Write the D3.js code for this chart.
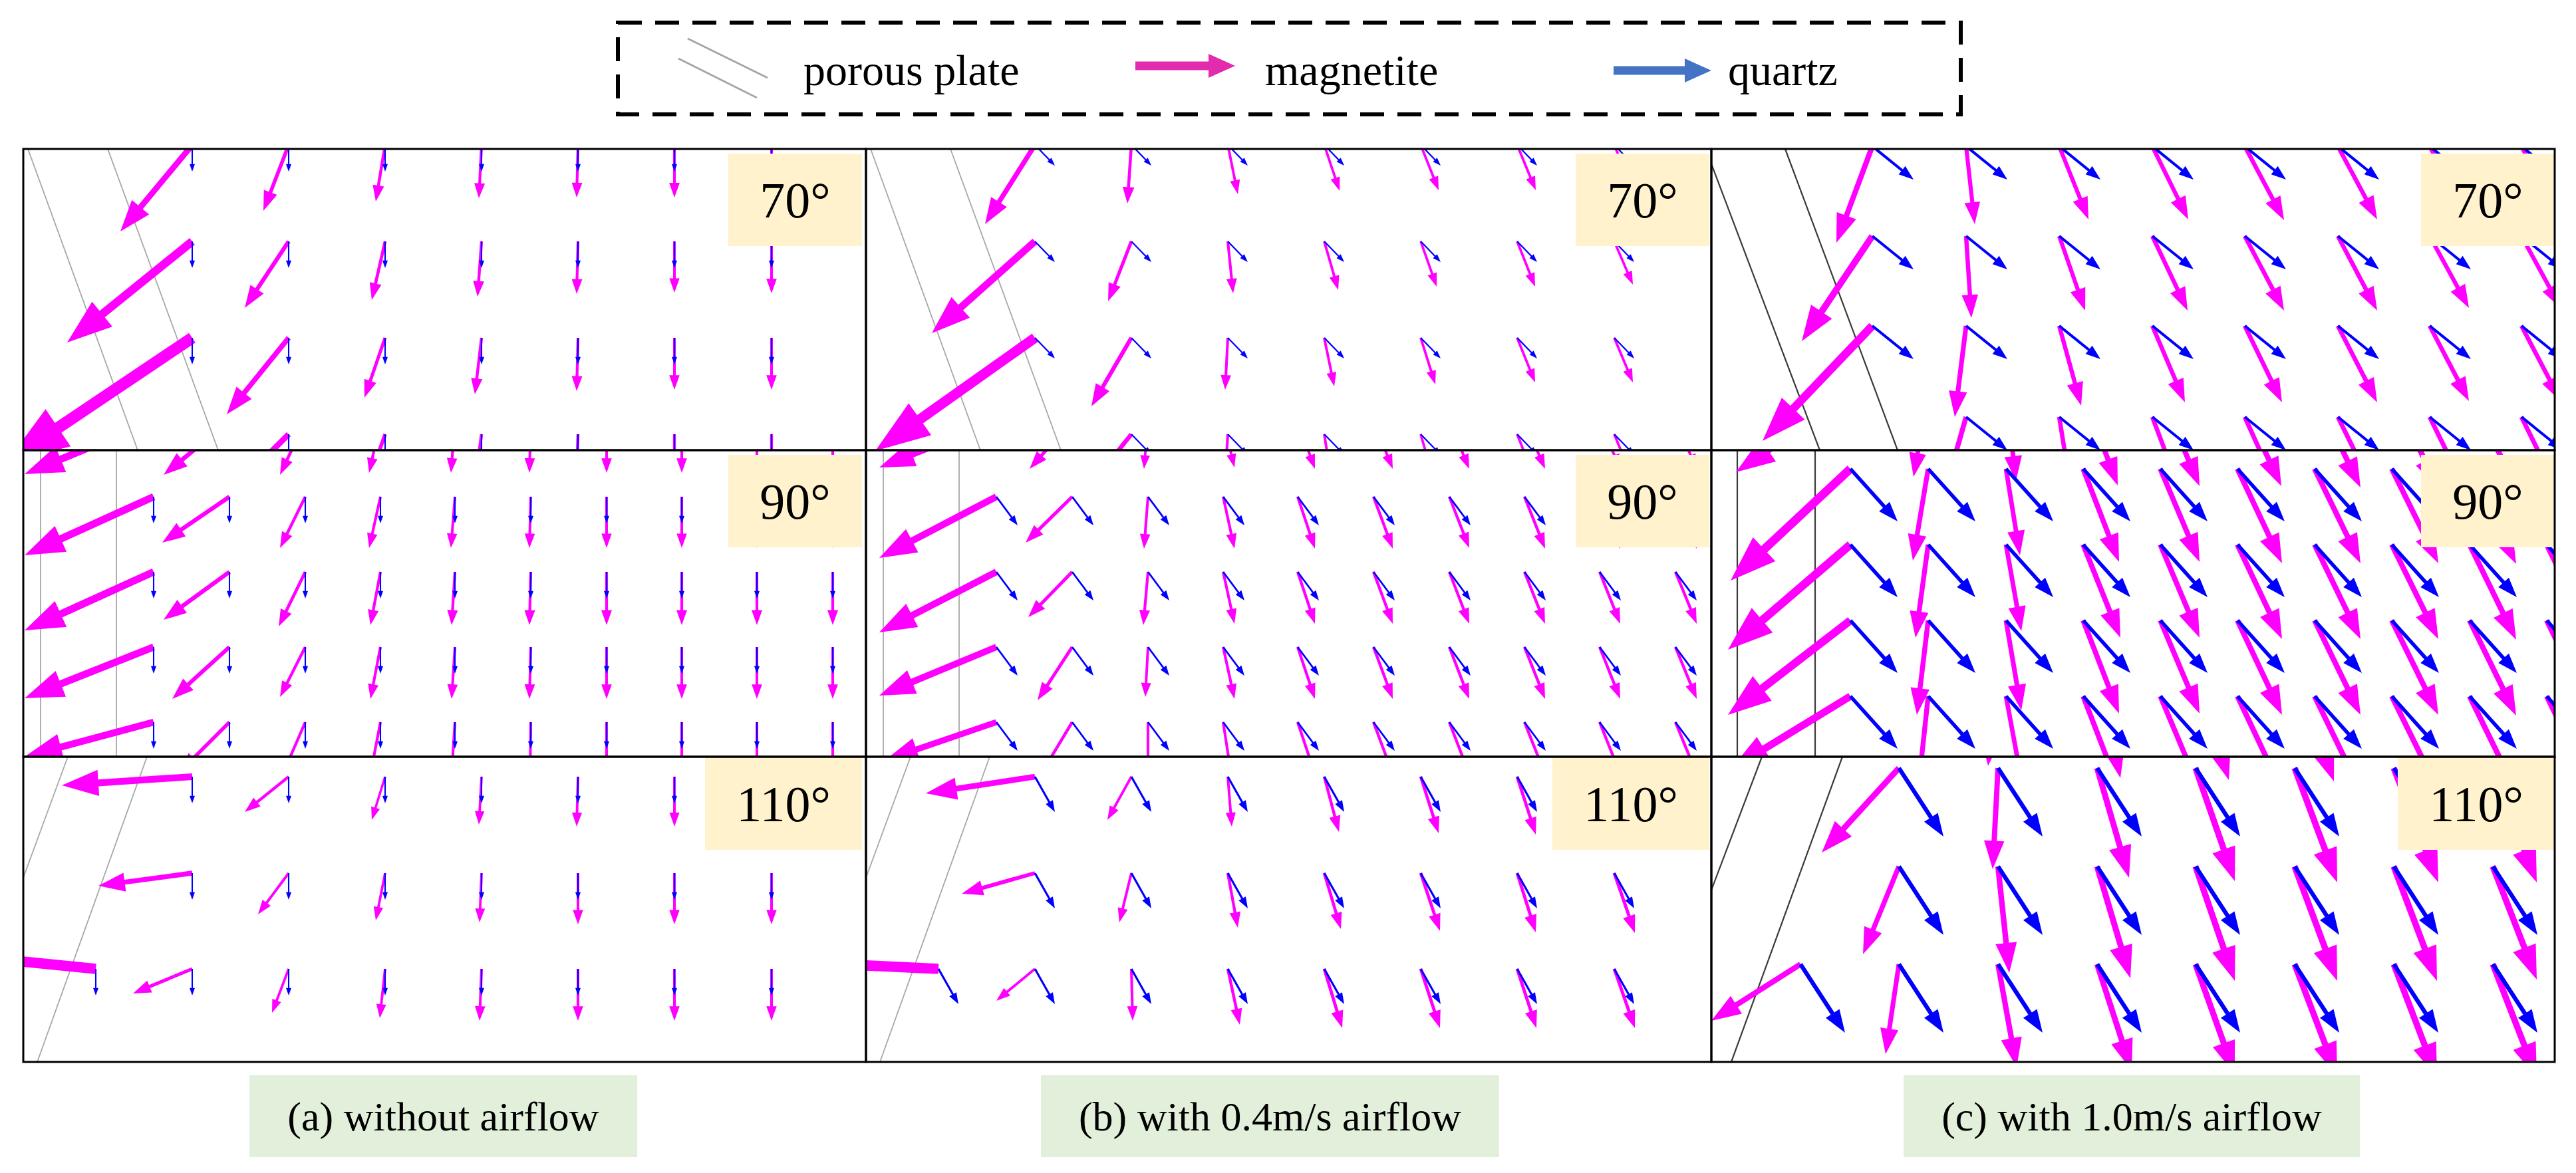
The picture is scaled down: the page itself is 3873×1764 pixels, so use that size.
<!DOCTYPE html>
<html><head><meta charset="utf-8">
<script src="https://cdn.jsdelivr.net/npm/d3@7"></script>
<style>body{margin:0;background:#fff}svg{display:block}</style>
</head><body>
<svg id="chart" width="3873" height="1764"></svg>
<script>
// ---------------- DATA (units: 1 unit = 1/10 of panel pixel scale, origin = panel top-left) -------------
const captions = ["(a) without airflow", "(b) with 0.4m/s airflow", "(c) with 1.0m/s airflow"];
const angleLabels = ["70°", "90°", "110°"];
const legendLabels = ["porous plate", "magnetite", "quartz"];

// sampling grids
const gridX_ab70 = [25.4, 39.9, 54.4, 68.9, 83.4, 97.9, 112.5];
const gridY_ab70 = [-0.6, 13.9, 28.4, 42.9];
const gridX_c70 = [24.2, 38.3, 52.3, 66.3, 80.2, 94.2, 108.0, 121.8];
const gridY_c70 = [-0.4, 13.1, 26.6, 40.3];
const gridX_ab90 = [19.6, 31.0, 42.4, 53.7, 64.9, 76.3, 87.7, 99.0, 110.3, 121.7];
const gridY_ab90 = [-4.4, 7.0, 18.3, 29.6, 40.9];
const gridX_c90 = [20.9, 32.6, 44.3, 55.9, 67.5, 79.1, 90.7, 102.3, 114.0, 125.6];
const gridY_c90 = [-8.6, 2.8, 14.2, 25.6, 37.0];
const gridX_ab110 = [10.9, 25.4, 39.9, 54.4, 68.9, 83.4, 97.9, 112.5];
const gridY_ab110 = [3.0, 17.5, 31.9];
const gridX_c110 = [13.4, 28.2, 43.1, 58.0, 72.8, 87.7, 102.6, 117.5];
const gridY_c110 = [-13.1, 1.7, 16.5, 31.2];

// magnetite velocity vectors [dx, dy] per row / column (null = no particle)
const mag_a70 = [
  [[-10.8,13.0],[-3.8,9.9],[-1.4,8.5],[-0.4,8.0],[-0.2,7.9],[0,7.9],[0,7.9]],
  [[-18.8,15.2],[-6.6,10.0],[-2.0,8.8],[-0.6,8.3],[-0.2,7.9],[0,7.7],[0,7.8]],
  [[-28.0,18.8],[-9.3,11.5],[-3.1,9.0],[-1.0,8.5],[-0.2,8.0],[0,7.8],[0,7.8]],
  [null,[-12.0,12.0],[-3.5,10.0],[-1.2,9.0],[-0.3,8.5],[0,8.3],[0,8.3]]
];
const mag_b70 = [
  [[-7.5,11.9],[-0.6,8.8],[1.5,7.4],[2.3,6.9],[2.7,6.8],[2.8,6.8],[2.8,6.8]],
  [[-15.5,13.8],[-3.5,9.0],[0.8,7.8],[2.1,7.3],[2.4,6.8],[2.7,6.8],[2.8,6.5]],
  [[-24.0,17.0],[-6.0,10.3],[-0.4,7.8],[1.5,7.3],[2.2,7.0],[2.7,6.7],[2.8,6.7]],
  [null,[-8.0,10.0],[-0.5,8.0],[1.2,7.5],[2.0,7.0],[2.7,6.8],[2.8,6.8]]
];
const mag_c70 = [
  [[-5.4,14.5],[1.3,11.7],[4.4,11.0],[5.4,11.0],[5.9,11.1],[5.9,11.0],[5.9,11.0],[5.9,11.0]],
  [[-10.6,15.8],[0.8,12.3],[3.9,11.2],[5.3,11.2],[5.9,11.2],[5.9,11.2],[5.9,10.8],[5.9,10.8]],
  [[-16.5,17.3],[-1.7,13.7],[3.3,12.0],[4.9,11.5],[5.6,11.5],[5.9,11.5],[5.9,11.3],[5.9,11.3]],
  [null,[-4.0,14.0],[2.0,12.5],[4.5,12.0],[5.4,12.0],[5.9,12.0],[5.9,12.0],[5.9,12.0]]
];
const mag_a90 = [
  [[-19.4,8.0],[-9.9,8.1],[-3.8,8.1],[-1.7,7.8],[-0.6,7.8],[-0.2,7.8],[0,7.8],[0,7.8],[0,7.8],[0,7.8]],
  [[-19.4,8.8],[-10.1,6.9],[-3.8,7.7],[-1.7,7.7],[-0.6,7.7],[-0.2,7.7],[0,7.7],[0,7.7],[0,7.7],[0,7.7]],
  [[-19.4,8.8],[-9.9,7.2],[-4.0,8.2],[-1.5,8.0],[-0.5,8.0],[-0.2,8.0],[0,8.0],[0,8.0],[0,8.0],[0,8.0]],
  [[-19.4,7.7],[-8.6,7.8],[-3.8,7.5],[-1.5,7.8],[-0.5,7.8],[-0.2,7.8],[0,7.8],[0,7.8],[0,7.8],[0,7.8]],
  [[-19.4,5.2],[-7.5,7.5],[-3.3,7.6],[-1.5,7.8],[-0.5,7.8],[-0.1,7.8],[0,7.8],[0,7.8],[0,7.8],[0,7.8]]
];
const mag_b90 = [
  [[-17.6,7.0],[-6.4,7.2],[-0.6,7.2],[1.7,7.0],[2.6,7.2],[2.9,7.2],[3.0,7.2],[3.1,7.2],[3.1,7.2],[3.2,7.2]],
  [[-17.6,9.2],[-7.0,6.9],[-0.6,7.8],[1.7,7.8],[2.6,7.8],[2.9,7.8],[3.0,7.7],[3.1,7.8],[3.1,7.8],[3.2,7.8]],
  [[-17.6,9.1],[-6.6,6.8],[-0.7,8.0],[1.7,7.8],[2.6,7.8],[2.9,7.8],[3.0,7.8],[3.1,7.8],[3.1,7.8],[3.2,7.8]],
  [[-17.6,7.3],[-5.2,8.0],[-0.4,7.5],[1.7,7.8],[2.6,7.8],[2.9,7.8],[3.0,7.8],[3.1,7.8],[3.1,7.8],[3.2,7.8]],
  [[-16.7,5.7],[-4.5,7.5],[0.0,7.8],[1.2,7.8],[2.6,7.8],[2.9,7.8],[3.0,7.8],[3.1,7.8],[3.1,7.8],[3.2,7.8]]
];
const mag_c90 = [
  [[-17.2,11.9],[-2.2,12.6],[1.5,13.2],[5.2,13.9],[5.9,14.0],[6.6,14.0],[6.9,14.2],[7.0,14.2],[7.0,14.2],[7.0,14.2]],
  [[-18.0,16.8],[-2.3,13.8],[2.1,13.0],[5.4,14.0],[5.9,14.0],[6.7,14.2],[6.9,14.2],[7.0,14.2],[7.0,14.3],[7.0,14.3]],
  [[-18.4,15.8],[-1.9,14.0],[2.3,13.0],[5.6,14.0],[5.9,14.0],[6.7,14.2],[6.9,14.2],[7.0,14.2],[7.0,14.3],[7.0,14.3]],
  [[-18.4,14.2],[-1.7,14.2],[2.3,13.5],[5.4,14.0],[5.9,14.0],[6.7,14.2],[6.9,14.2],[7.0,14.2],[7.0,14.3],[7.0,14.3]],
  [[-18.0,11.0],[-1.5,14.0],[2.4,13.0],[5.4,14.0],[5.9,14.0],[6.7,14.2],[6.9,14.2],[7.0,14.2],[7.0,14.3],[7.0,14.3]]
];
const mag_a110 = [
  [null,[-19.6,1.3],[-6.6,5.3],[-2.0,6.5],[-0.4,7.2],[-0.2,7.5],[0,7.5],[0,7.5]],
  [null,[-14.1,1.9],[-4.6,6.2],[-1.4,7.1],[-0.3,7.4],[0,7.7],[0,7.7],[0,7.7]],
  [[-30.0,-3.0],[-8.9,3.7],[-2.5,6.6],[-0.8,7.4],[-0.3,7.8],[0,7.8],[0,7.8],[0,7.8]]
];
const mag_b110 = [
  [null,[-16.4,2.5],[-3.6,6.5],[0.6,7.5],[2.2,8.3],[2.7,8.5],[2.8,8.7],[2.9,8.8]],
  [null,[-11.0,3.1],[-1.8,7.4],[1.5,8.2],[2.5,8.4],[2.9,8.7],[2.8,8.9],[3.1,9.0]],
  [[-30.0,-1.4],[-5.8,4.8],[0.2,7.8],[1.8,8.4],[2.7,8.9],[2.9,8.9],[2.9,8.9],[3.1,8.9]]
];
const mag_c110 = [
  [null,[-13.0,12.0],[-1.5,14.5],[3.5,16.3],[5.0,16.6],[5.9,16.8],[6.5,17.0],[6.6,17.0]],
  [null,[-11.6,12.7],[-0.8,15.2],[4.8,16.5],[5.9,17.0],[6.4,17.2],[6.7,17.2],[6.6,17.2]],
  [null,[-5.4,13.2],[1.7,16.0],[5.0,16.8],[5.9,17.2],[6.4,17.2],[6.5,17.2],[6.6,17.0]],
  [[-13.4,8.5],[-2.0,13.5],[2.8,15.5],[5.2,16.0],[5.9,16.5],[6.4,16.8],[6.5,17.0],[6.6,17.0]]
];

// quartz velocity (uniform across each panel) [dx, dy]
const qtz_a70 = [0, 4.0], qtz_b70 = [3.0, 3.1], qtz_c70 = [6.2, 5.0];
const qtz_a90 = [0, 4.0], qtz_b90 = [3.2, 4.3], qtz_c90 = [7.1, 7.9];
const qtz_a110 = [0, 4.0], qtz_b110 = [3.0, 5.3], qtz_c110 = [6.7, 10.3];

// porous plate lines: [x at panel top, x at panel bottom]
const plates_ab70 = [[0.7, 17.2], [12.7, 29.3]];
const plates_c70 = [[-0.85, 16.3], [11.1, 28.0]];
const plates_ab90 = [[2.6, 2.6], [14.0, 14.0]];
const plates_c90 = [[3.9, 3.9], [15.6, 15.6]];
const plates_ab110 = [[6.7, -10.2], [18.6, 2.1]];
const plates_c110 = [[7.6, -9.8], [19.7, 3.0]];

// ---------------- LAYOUT ----------------
const colEdges = [35, 1302, 2573, 3841];
const rowEdges = [224, 677, 1138, 1597];
const MAG = "#FF00FF", QTZ = "#0000FF";

const panels = [
  {r:0,c:0,gx:gridX_ab70,gy:gridY_ab70,mag:mag_a70,q:qtz_a70,pl:plates_ab70},
  {r:0,c:1,gx:gridX_ab70,gy:gridY_ab70,mag:mag_b70,q:qtz_b70,pl:plates_ab70},
  {r:0,c:2,gx:gridX_c70,gy:gridY_c70,mag:mag_c70,q:qtz_c70,pl:plates_c70},
  {r:1,c:0,gx:gridX_ab90,gy:gridY_ab90,mag:mag_a90,q:qtz_a90,pl:plates_ab90},
  {r:1,c:1,gx:gridX_ab90,gy:gridY_ab90,mag:mag_b90,q:qtz_b90,pl:plates_ab90},
  {r:1,c:2,gx:gridX_c90,gy:gridY_c90,mag:mag_c90,q:qtz_c90,pl:plates_c90},
  {r:2,c:0,gx:gridX_ab110,gy:gridY_ab110,mag:mag_a110,q:qtz_a110,pl:plates_ab110},
  {r:2,c:1,gx:gridX_ab110,gy:gridY_ab110,mag:mag_b110,q:qtz_b110,pl:plates_ab110},
  {r:2,c:2,gx:gridX_c110,gy:gridY_c110,mag:mag_c110,q:qtz_c110,pl:plates_c110}
];

const svg = d3.select("#chart");
const FONT = "'Liberation Serif','Times New Roman',serif";
const line = d3.line();

function arrowPath(x0, y0, x1, y1) {
  const dx = x1 - x0, dy = y1 - y0, L = Math.hypot(dx, dy);
  if (L < 1) return "";
  const ux = dx / L, uy = dy / L, nx = -uy, ny = ux;
  const w = Math.max(1.7, 0.052 * L) / 2, h = 0.28 * L, hw = Math.max(3.5, 0.1 * L);
  const bx = x1 - ux * h, by = y1 - uy * h;
  return line([[x0 + nx * w, y0 + ny * w], [bx + nx * w, by + ny * w], [bx + nx * hw, by + ny * hw], [x1, y1],
               [bx - nx * hw, by - ny * hw], [bx - nx * w, by - ny * w], [x0 - nx * w, y0 - ny * w]]) + "Z";
}

const defs = svg.append("defs");

panels.forEach((p, i) => {
  const left = colEdges[p.c], right = colEdges[p.c + 1];
  const top = rowEdges[p.r], bottom = rowEdges[p.r + 1];
  const x = d3.scaleLinear().domain([0, (right - left) / 10]).range([left, right]);
  const y = d3.scaleLinear().domain([0, (bottom - top) / 10]).range([top, bottom]);
  const H = (bottom - top) / 10;

  defs.append("clipPath").attr("id", "clip" + i)
    .append("rect").attr("x", left).attr("y", top).attr("width", right - left).attr("height", bottom - top);
  const g = svg.append("g").attr("clip-path", `url(#clip${i})`);

  // porous plate
  g.selectAll("line.plate").data(p.pl).join("line").attr("class", "plate")
    .attr("x1", d => x(d[0])).attr("y1", y(0)).attr("x2", d => x(d[1])).attr("y2", y(H))
    .attr("stroke", p.c === 2 ? "#3a3a3a" : "#a8a8a8").attr("stroke-width", p.c === 2 ? 2.2 : 1.8);

  const pts = [];
  p.mag.forEach((row, ri) => row.forEach((v, ci) => {
    if (v) pts.push({gx: p.gx[ci], gy: p.gy[ri], m: v});
  }));

  g.selectAll("path.mag").data(pts).join("path").attr("class", "mag")
    .attr("d", d => arrowPath(x(d.gx), y(d.gy), x(d.gx + d.m[0]), y(d.gy + d.m[1])))
    .attr("fill", MAG);
  g.selectAll("path.qtz").data(pts).join("path").attr("class", "qtz")
    .attr("d", d => arrowPath(x(d.gx), y(d.gy), x(d.gx + p.q[0]), y(d.gy + p.q[1])))
    .attr("fill", QTZ);

  // angle label
  const lab = angleLabels[p.r];
  const bw = lab.length > 3 ? 236 : 201, bh = 139;
  const inset = [6, 3, 0][p.c];
  const bTop = top + (p.r === 2 ? 1 : 7);
  g.append("rect").attr("x", right - inset - bw).attr("y", bTop).attr("width", bw).attr("height", bh)
    .attr("fill", "#FFF2CC");
  g.append("text").attr("x", right - inset - bw / 2).attr("y", bTop + bh / 2 + 26)
    .attr("text-anchor", "middle").attr("font-family", FONT).attr("font-size", 76).attr("fill", "#000")
    .text(lab);
});

// panel borders
panels.forEach(p => {
  svg.append("rect").attr("x", colEdges[p.c]).attr("y", rowEdges[p.r])
    .attr("width", colEdges[p.c + 1] - colEdges[p.c]).attr("height", rowEdges[p.r + 1] - rowEdges[p.r])
    .attr("fill", "none").attr("stroke", "#000").attr("stroke-width", 3);
});

// captions
const capBoxes = [[375, 958], [1565, 2254], [2862, 3548]];
captions.forEach((t, i) => {
  const [a, b] = capBoxes[i];
  svg.append("rect").attr("x", a).attr("y", 1617).attr("width", b - a).attr("height", 123).attr("fill", "#E2EFDA");
  svg.append("text").attr("x", (a + b) / 2).attr("y", 1700).attr("text-anchor", "middle")
    .attr("font-family", FONT).attr("font-size", 62).attr("fill", "#000").text(t);
});

// legend
const lg = svg.append("g");
lg.append("rect").attr("x", 929).attr("y", 34).attr("width", 2019).attr("height", 138)
  .attr("fill", "none").attr("stroke", "#000").attr("stroke-width", 6).attr("stroke-dasharray", "36 20");
lg.selectAll("line.pp").data([[1034, 58, 1154, 117], [1020, 88, 1138, 147]]).join("line")
  .attr("x1", d => d[0]).attr("y1", d => d[1]).attr("x2", d => d[2]).attr("y2", d => d[3])
  .attr("stroke", "#a6a6a6").attr("stroke-width", 3);
function legendArrow(x0, x1, yc, shaft, head, hl, color) {
  lg.append("path").attr("fill", color).attr("d", line([
    [x0, yc - shaft / 2], [x1 - hl, yc - shaft / 2], [x1 - hl, yc - head / 2], [x1, yc],
    [x1 - hl, yc + head / 2], [x1 - hl, yc + shaft / 2], [x0, yc + shaft / 2]]) + "Z");
}
legendArrow(1707, 1857, 99, 13, 36, 40, "#E32BAE");
legendArrow(2426, 2573, 106, 13, 36, 40, "#4472C4");
const legX = [1208, 1902, 2598];
legendLabels.forEach((t, i) => {
  lg.append("text").attr("x", legX[i]).attr("y", 128).attr("font-family", FONT).attr("font-size", 66)
    .attr("fill", "#000").text(t);
});
</script>
</body></html>
